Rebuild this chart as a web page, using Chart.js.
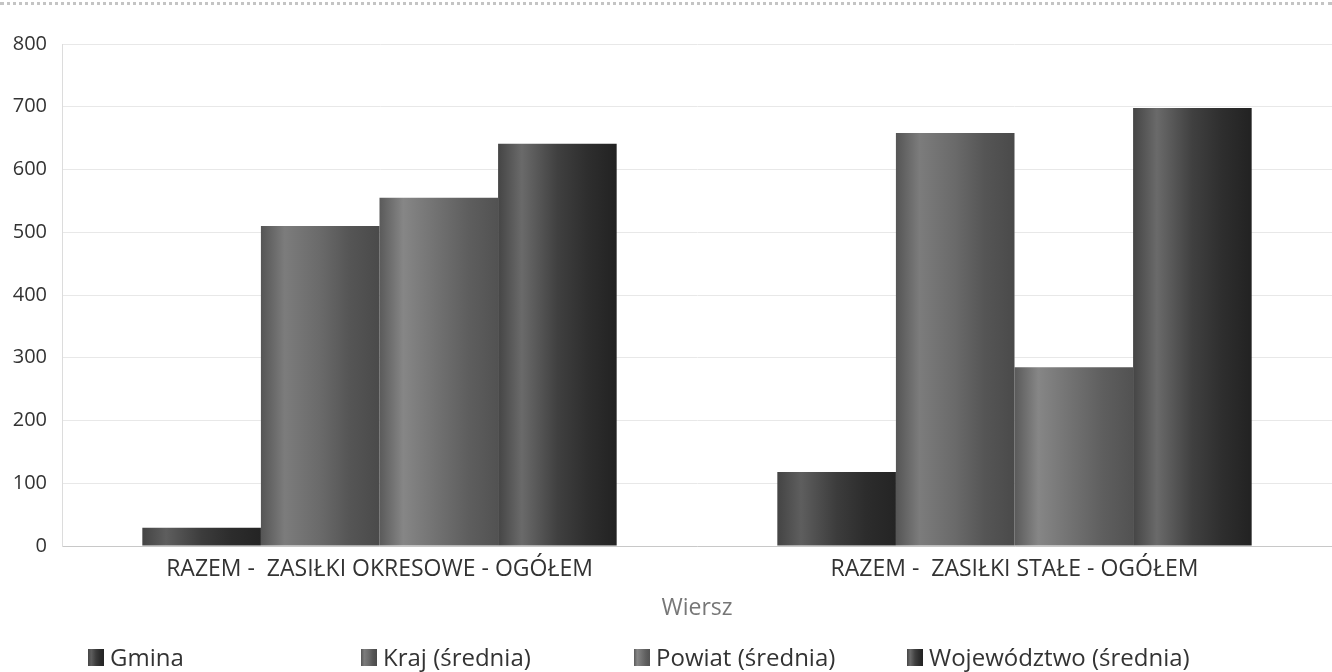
<!DOCTYPE html>
<html>
<head>
<meta charset="utf-8">
<script src="https://cdn.jsdelivr.net/npm/chart.js@4.4.1/dist/chart.umd.min.js"></script>
<style>
  html, body { margin: 0; padding: 0; background: #fff; }
  #wrap { position: relative; width: 1332px; height: 672px; overflow: hidden; }
  #topline { position: absolute; left: 0; top: 2px; width: 1332px; border-top: 3px dotted #c4c4c4; }
  #legend { position: absolute; left: 88px; top: 643px; width: 1240px; display: flex; font-family: "Open Sans", sans-serif; font-size: 24px; line-height: 28px; color: #333; }
  .item { flex: none; width: 273px; display: flex; align-items: center; white-space: nowrap; }
  .box { flex: none; width: 16px; height: 17px; margin-right: 6px; }
</style>
</head>
<body>
<div id="wrap">
  <div id="topline"></div>
  <canvas id="chart" width="1332" height="672"></canvas>
  <div id="legend"></div>
</div>
<script>
const categories = ['RAZEM -  ZASIŁKI OKRESOWE - OGÓŁEM', 'RAZEM -  ZASIŁKI STAŁE - OGÓŁEM'];
const seriesNames = ['Gmina', 'Kraj (średnia)', 'Powiat (średnia)', 'Województwo (średnia)'];
const gminaValues = [29, 118];
const krajValues = [510, 658];
const powiatValues = [555, 285];
const wojValues = [641, 698];
const axisTitle = 'Wiersz';

// cylinder-like shading for each series, left to right
const shades = [
    ['#444444', '#5e5e5e', '#3c3c3c', '#2c2c2c', '#242424'],
    ['#555555', '#7c7c7c', '#6a6a6a', '#555555', '#4a4a4a'],
    ['#5a5a5a', '#868686', '#707070', '#5e5e5e', '#525252'],
    ['#454545', '#6a6a6a', '#404040', '#2e2e2e', '#222222']
];
const stopAt = [0, 0.2, 0.5, 0.75, 1];

const ctx = document.getElementById('chart').getContext('2d');

const gradientBars = {
    id: 'gradientBars',
    beforeDatasetsDraw(chart) {
        chart.data.datasets.forEach((ds, di) => {
            chart.getDatasetMeta(di).data.forEach(bar => {
                const g = chart.ctx.createLinearGradient(bar.x - bar.width / 2, 0, bar.x + bar.width / 2, 0);
                shades[di].forEach((c, k) => g.addColorStop(stopAt[k], c));
                bar.options.backgroundColor = g;
            });
        });
    }
};

const allValues = [gminaValues, krajValues, powiatValues, wojValues];

new Chart(ctx, {
    type: 'bar',
    data: {
        labels: categories,
        datasets: seriesNames.map((name, i) => ({
            label: name,
            data: allValues[i],
            backgroundColor: () => shades[i][2],
            borderWidth: 0,
            barPercentage: 1,
            categoryPercentage: 0.747
        }))
    },
    options: {
        responsive: false,
        animation: false,
        layout: { padding: { top: 44, right: 0, bottom: 46, left: 0 } },
        plugins: { legend: { display: false }, tooltip: { enabled: false } },
        scales: {
            x: {
                grid: { display: false, drawTicks: false },
                border: { color: '#c8c8c8' },
                ticks: { color: '#333', padding: 10, font: { family: 'Open Sans', size: 23 } },
                title: { display: true, text: axisTitle, color: '#777', font: { family: 'Open Sans', size: 23 }, padding: { top: 0, bottom: 4 } },
                afterFit: s => { s.height = 80; }
            },
            y: {
                min: 0, max: 800,
                ticks: { stepSize: 100, color: '#333', padding: 15, font: { family: 'Open Sans', size: 20 } },
                grid: { color: '#e8e8e8', drawTicks: false },
                border: { color: '#dcdcdc' },
                afterFit: s => { s.width = 62; }
            }
        }
    },
    plugins: [gradientBars]
});

const legend = document.getElementById('legend');
seriesNames.forEach((name, i) => {
    const item = document.createElement('div');
    item.className = 'item';
    const stops = shades[i].map((c, k) => c + ' ' + (stopAt[k] * 100) + '%').join(', ');
    item.innerHTML = `<span class="box" style="background: linear-gradient(to right, ${stops})"></span><span>${name}</span>`;
    legend.appendChild(item);
});
</script>
</body>
</html>
